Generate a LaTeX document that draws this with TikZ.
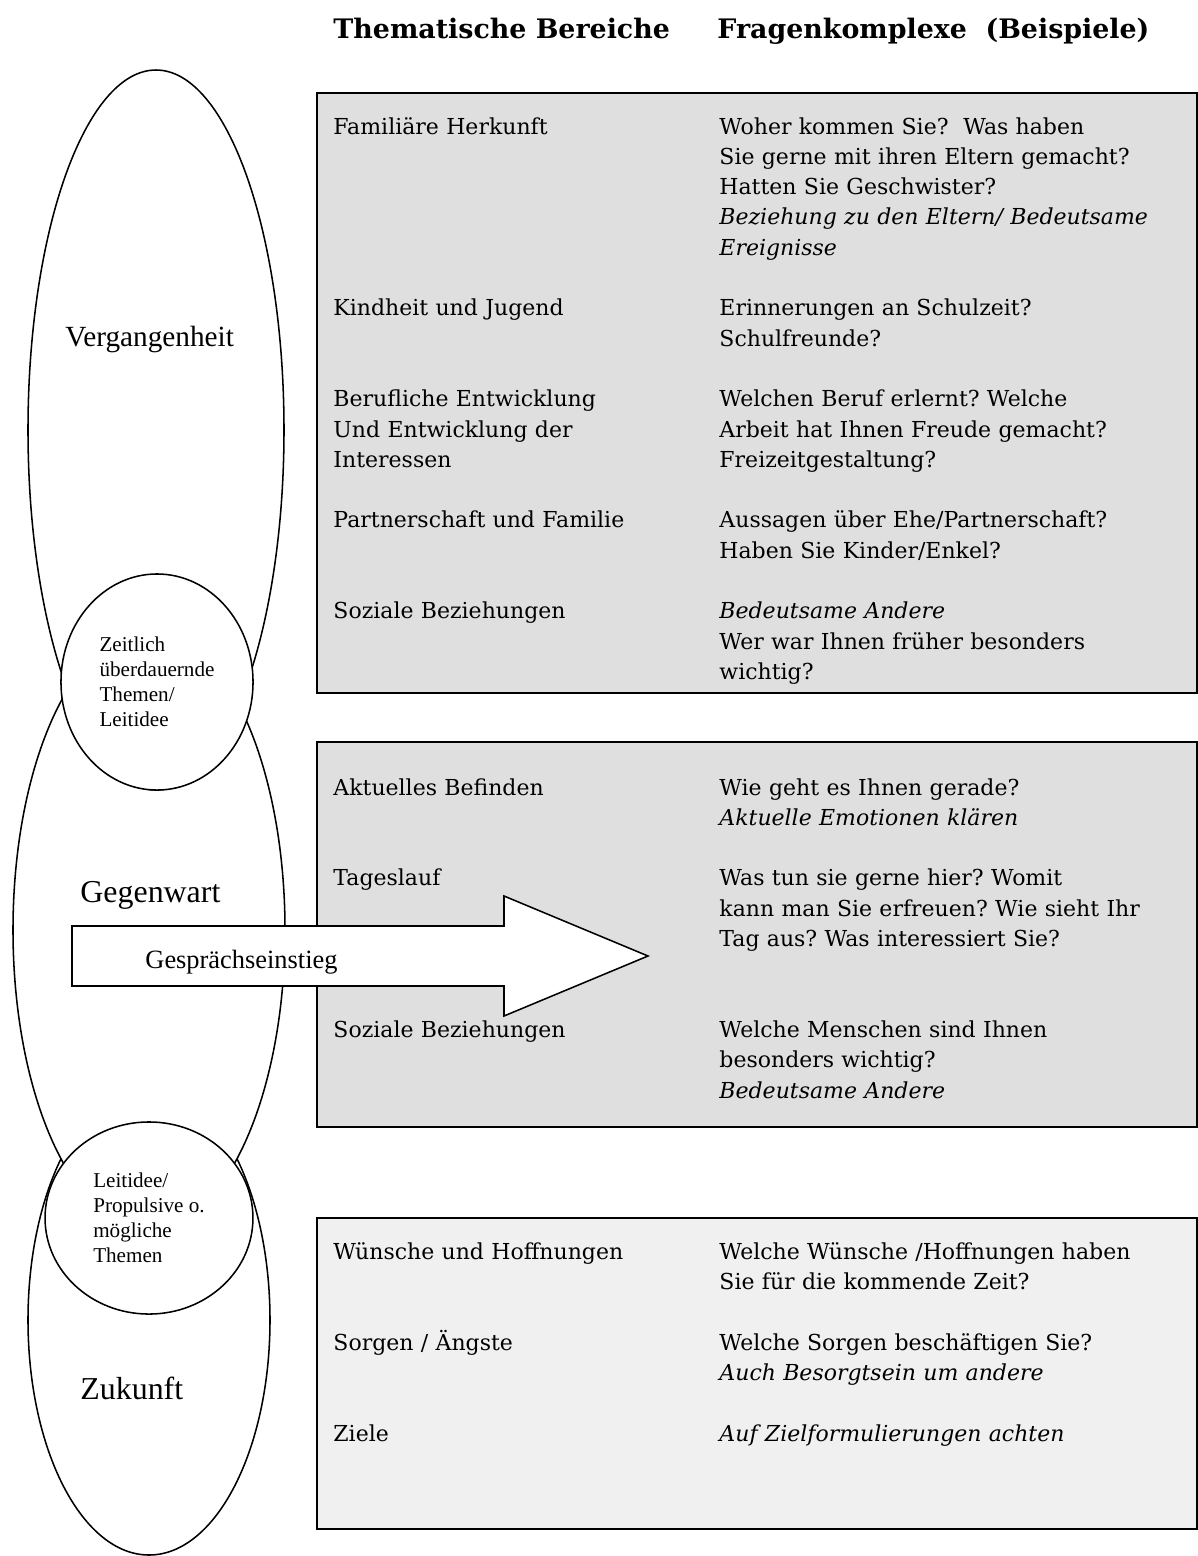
\documentclass[tikz,border=0pt]{standalone}
\usepackage{fontspec}
\setmainfont{Liberation Serif}
\newfontfamily\bodyfont{DejaVu Serif}
\usetikzlibrary{shapes.geometric}
\definecolor{pastgray}{HTML}{DFDFDF}
\definecolor{futgray}{HTML}{F0F0F0}
\frenchspacing

\begin{document}
\begin{tikzpicture}[
  x=0.4545pt, y=-0.4545pt,
  panel/.style={draw=black, line width=0.8pt},
  zone/.style={draw, fill=white, line width=0.7pt},
  bubble/.style={ellipse, draw, fill=white, line width=0.7pt, inner sep=0pt, align=left, font=\fontsize{9.6pt}{11.3pt}\selectfont},
  head/.style={anchor=base west, inner sep=0pt, font={\bodyfont\bfseries\fontsize{12.2pt}{14pt}\selectfont}},
  topic/.style={anchor=base west, inner sep=0pt, text width=170pt, align=left, font={\bodyfont\fontsize{10pt}{13.77pt}\selectfont}},
  quest/.style={topic, text width=240pt},
  era/.style={anchor=base west, inner sep=0pt, font=\fontsize{14.5pt}{17pt}\selectfont}
]
\useasboundingbox (0,0) rectangle (1198,1556);

% column heads
\node[head] (hthemes) at (333,38) {Thematische Bereiche};
\node[head] (hquest) at (717,38) {Fragenkomplexe\ \ (Beispiele)};

% panels
\draw[panel, fill=pastgray] (317,93) rectangle (1197,693);
\draw[panel, fill=pastgray] (317,742) rectangle (1197,1127);
\draw[panel, fill=futgray] (317,1218) rectangle (1197,1529);

% time zones
\draw[zone] (149,1320) ellipse [x radius=121, y radius=235];
\draw[zone] (149,930) ellipse [x radius=136, y radius=300];
\draw[zone] (156,430) ellipse [x radius=128, y radius=360];
\node[bubble, minimum width=87.3pt, minimum height=98.2pt] (lasting) at (157,682) {Zeitlich\\überdauernde\\Themen/\\Leitidee};
\node[bubble, minimum width=94.5pt, minimum height=87.3pt] (prospect) at (149,1218) {Leitidee/\\Propulsive o.\\mögliche\\Themen};

\node[anchor=base west, inner sep=0pt, font=\fontsize{13.3pt}{16pt}\selectfont] (past) at (65,346) {Vergangenheit};
\node[era] (now) at (80,902) {Gegenwart};
\node[era] (future) at (80,1399) {Zukunft};

% entry arrow
\draw[zone] (72,926) -- (504,926) -- (504,896) -- (648,956) -- (504,1016) -- (504,986) -- (72,986) -- cycle;
\node[anchor=base west, inner sep=0pt, font=\fontsize{12pt}{14pt}\selectfont] (entry) at (145,968) {Gesprächseinstieg};

% Vergangenheit
\node[topic] (fam) at (333,134) {Familiäre Herkunft};
\node[quest] (famq) at (719,134) {Woher kommen Sie?\ \ Was haben\\Sie gerne mit ihren Eltern gemacht?\\Hatten Sie Geschwister?\\\textit{Beziehung zu den Eltern/ Bedeutsame}\\\textit{Ereignisse}};
\node[topic] (kid) at (333,315.8) {Kindheit und Jugend};
\node[quest] (kidq) at (719,315.8) {Erinnerungen an Schulzeit?\\Schulfreunde?};
\node[topic] (job) at (333,406.7) {Berufliche Entwicklung\\Und Entwicklung der\\Interessen};
\node[quest] (jobq) at (719,406.7) {Welchen Beruf erlernt? Welche\\Arbeit hat Ihnen Freude gemacht?\\Freizeitgestaltung?};
\node[topic] (part) at (333,527.9) {Partnerschaft und Familie};
\node[quest] (partq) at (719,527.9) {Aussagen über Ehe/Partnerschaft?\\Haben Sie Kinder/Enkel?};
\node[topic] (socp) at (333,618.8) {Soziale Beziehungen};
\node[quest] (socpq) at (719,618.8) {\textit{Bedeutsame Andere}\\Wer war Ihnen früher besonders\\wichtig?};

% Gegenwart
\node[topic] (mood) at (333,795) {Aktuelles Befinden};
\node[quest] (moodq) at (719,795) {Wie geht es Ihnen gerade?\\\textit{Aktuelle Emotionen klären}};
\node[topic] (day) at (333,885.9) {Tageslauf};
\node[quest] (dayq) at (719,885.9) {Was tun sie gerne hier? Womit\\kann man Sie erfreuen? Wie sieht Ihr\\Tag aus? Was interessiert Sie?};
\node[topic] (socn) at (333,1037.4) {Soziale Beziehungen};
\node[quest] (socnq) at (719,1037.4) {Welche Menschen sind Ihnen\\besonders wichtig?\\\textit{Bedeutsame Andere}};

% Zukunft
\node[topic] (wish) at (333,1259.5) {Wünsche und Hoffnungen};
\node[quest] (wishq) at (719,1259.5) {Welche Wünsche /Hoffnungen haben\\Sie für die kommende Zeit?};
\node[topic] (fear) at (333,1350.4) {Sorgen / Ängste};
\node[quest] (fearq) at (719,1350.4) {Welche Sorgen beschäftigen Sie?\\\textit{Auch Besorgtsein um andere}};
\node[topic] (goal) at (333,1441.3) {Ziele};
\node[quest] (goalq) at (719,1441.3) {\textit{Auf Zielformulierungen achten}};
\end{tikzpicture}
\end{document}
